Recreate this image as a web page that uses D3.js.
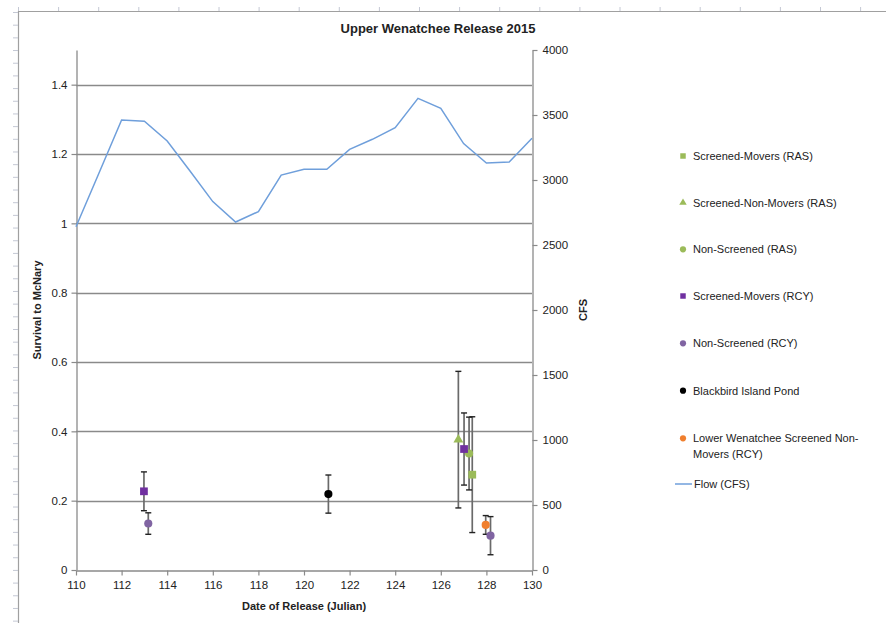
<!DOCTYPE html>
<html><head><meta charset="utf-8">
<script src="https://cdn.jsdelivr.net/npm/d3@7"></script>
<style>
html,body{margin:0;padding:0;background:#fff;}
text{font-family:"Liberation Sans",Arial,sans-serif;fill:#222;}
</style></head>
<body>
<svg id="c" width="886" height="623"></svg>
<script>
// ---- data ----
const flowDays = [110,111,112,113,114,115,116,117,118,119,120,121,122,123,124,125,126,127,128,129,130];
const flowCFS  = [2640,3050,3462,3452,3300,3069,2834,2677,2757,3038,3082,3082,3236,3313,3403,3628,3552,3280,3131,3138,3321];

const seriesNames = ["Screened-Movers (RAS)","Screened-Non-Movers (RAS)","Non-Screened (RAS)","Screened-Movers (RCY)","Non-Screened (RCY)","Blackbird Island Pond","Lower Wenatchee Screened Non-Movers (RCY)"];
const seriesShapes = ["square","triangle","circle","square","circle","circle","circle"];
const seriesColors = ["#9BBB59","#9BBB59","#9BBB59","#7030A0","#8064A2","#000000","#F07F2E"];
const seriesX   = [[127.38],[126.77],[127.24],[112.98,127.02],[113.17,128.18],[121.07],[127.97]];
const seriesY   = [[0.275],[0.376],[0.336],[0.227,0.349],[0.134,0.099],[0.219],[0.130]];
const seriesErr = [[0.167],[0.197],[0.105],[0.056,0.104],[0.031,0.055],[0.055],[0.027]];

const xTicks = [110,112,114,116,118,120,122,124,126,128,130];
const yTicks = [0,0.2,0.4,0.6,0.8,1,1.2,1.4];
const y2Ticks = [0,500,1000,1500,2000,2500,3000,3500,4000];

const titleText = "Upper Wenatchee Release 2015";
const xTitle = "Date of Release (Julian)";
const yTitle = "Survival to McNary";
const y2Title = "CFS";
const flowLabel = "Flow (CFS)";

// ---- layout ----
const svg = d3.select("#c");
const L = 76, R = 532, T = 50, B = 570;
const x = d3.scaleLinear().domain([110,130]).range([L,R]);
const y = d3.scaleLinear().domain([0,1.5]).range([B,T]);
const y2 = d3.scaleLinear().domain([0,4000]).range([B,T]);
const axisCol = "#8a8a8a";

// spreadsheet frame decoration
const frame = svg.append("g");
frame.append("line").attr("x1",18).attr("x2",886).attr("y1",11.5).attr("y2",11.5).attr("stroke","#a0a0a0").attr("stroke-width",1.2);
frame.append("line").attr("x1",18.5).attr("x2",18.5).attr("y1",11).attr("y2",623).attr("stroke","#a0a0a0").attr("stroke-width",1.2);
frame.selectAll("line.tt").data(d3.range(0,22)).join("line").attr("class","tt")
  .attr("x1",d=>18.5+d*40.1).attr("x2",d=>18.5+d*40.1).attr("y1",7).attr("y2",11)
  .attr("stroke","#c4c8d4").attr("stroke-width",1);
frame.selectAll("line.lt").data(d3.range(0,49)).join("line").attr("class","lt")
  .attr("y1",d=>12.5+d*12.68).attr("y2",d=>12.5+d*12.68).attr("x1",13).attr("x2",18)
  .attr("stroke","#c4c8d4").attr("stroke-width",1);

// gridlines
svg.append("g").selectAll("line").data(yTicks.filter(d=>d>0)).join("line")
  .attr("x1",L).attr("x2",R).attr("y1",d=>Math.round(y(d))+0.5).attr("y2",d=>Math.round(y(d))+0.5)
  .attr("stroke",axisCol).attr("stroke-width",1.3);

// axes
function styleAxis(g){
  g.selectAll(".domain").attr("stroke",axisCol).attr("stroke-width",1.3);
  g.selectAll(".tick line").attr("stroke",axisCol).attr("stroke-width",1.2);
  g.selectAll(".tick text").attr("font-size","11.5px").attr("fill","#222").attr("font-family","Liberation Sans, Arial, sans-serif");
}
const gx = svg.append("g").attr("transform",`translate(0,${B+0.5})`)
  .call(d3.axisBottom(x).tickValues(xTicks).tickSize(5).tickSizeOuter(0).tickPadding(5).tickFormat(d3.format("d")));
styleAxis(gx);
const gy = svg.append("g").attr("transform",`translate(${L+0.5},0)`)
  .call(d3.axisLeft(y).tickValues(yTicks).tickSize(5).tickSizeOuter(0).tickPadding(4).tickFormat(d=>String(d)));
styleAxis(gy);
const gy2 = svg.append("g").attr("transform",`translate(${R+0.5},0)`)
  .call(d3.axisRight(y2).tickValues(y2Ticks).tickSize(5).tickSizeOuter(0).tickPadding(5).tickFormat(d=>String(d)));
styleAxis(gy2);

// flow line
const line = d3.line().x((d,i)=>x(flowDays[i])).y(d=>y2(d));
svg.append("path").datum(flowCFS).attr("d",line).attr("fill","none")
  .attr("stroke","#6F9FDB").attr("stroke-width",1.5);

// symbols
function sym(shape,size){
  const t = shape==="square"?d3.symbolSquare:shape==="triangle"?d3.symbolTriangle:d3.symbolCircle;
  return d3.symbol().type(t).size(size)();
}
const eb = svg.append("g");
seriesNames.forEach((n,si)=>{
  seriesX[si].forEach((xv,i)=>{
    const yv = seriesY[si][i], e = seriesErr[si][i];
    const cx = x(xv);
    eb.append("line").attr("x1",cx).attr("x2",cx).attr("y1",y(yv+e)).attr("y2",y(yv-e))
      .attr("stroke","#6a6a6a").attr("stroke-width",1.7);
    [yv+e,yv-e].forEach(v=>eb.append("line").attr("x1",cx-3).attr("x2",cx+3).attr("y1",y(v)).attr("y2",y(v))
      .attr("stroke","#222").attr("stroke-width",1.4));
  });
});
const mk = svg.append("g");
seriesNames.forEach((n,si)=>{
  seriesX[si].forEach((xv,i)=>{
    const s = seriesShapes[si]==="triangle"?42:seriesShapes[si]==="square"?60:52;
    mk.append("path").attr("d",sym(seriesShapes[si],s))
      .attr("transform",`translate(${x(xv)},${y(seriesY[si][i])})`)
      .attr("fill",seriesColors[si]);
  });
});

// titles
svg.append("text").attr("x",438).attr("y",33).attr("text-anchor","middle").attr("font-weight","bold").attr("font-size","13px").text(titleText);
svg.append("text").attr("x",304).attr("y",610).attr("text-anchor","middle").attr("font-weight","bold").attr("font-size","11px").text(xTitle);
svg.append("text").attr("transform",`translate(41,310) rotate(-90)`).attr("text-anchor","middle").attr("font-weight","bold").attr("font-size","11px").text(yTitle);
svg.append("text").attr("transform",`translate(587,310) rotate(-90)`).attr("text-anchor","middle").attr("font-weight","bold").attr("font-size","11px").text(y2Title);

// legend
const legY = [156,202.7,249.3,296,343.3,390.7,438.3];
const lg = svg.append("g");
seriesNames.forEach((n,si)=>{
  lg.append("path").attr("d",sym(seriesShapes[si],seriesShapes[si]==="triangle"?24:30))
    .attr("transform",`translate(683,${legY[si]})`).attr("fill",seriesColors[si]);
  if(si===6){
    const t = lg.append("text").attr("x",693).attr("y",legY[si]+4).attr("font-size","11px");
    t.append("tspan").attr("x",693).text("Lower Wenatchee Screened Non-");
    t.append("tspan").attr("x",693).attr("dy",16).text("Movers (RCY)");
  } else {
    lg.append("text").attr("x",693).attr("y",legY[si]+4).attr("font-size","11px").text(n);
  }
});
lg.append("line").attr("x1",675).attr("x2",692).attr("y1",484).attr("y2",484).attr("stroke","#6F9FDB").attr("stroke-width",1.5);
lg.append("text").attr("x",694).attr("y",488).attr("font-size","11px").text(flowLabel);
</script>
</body></html>
